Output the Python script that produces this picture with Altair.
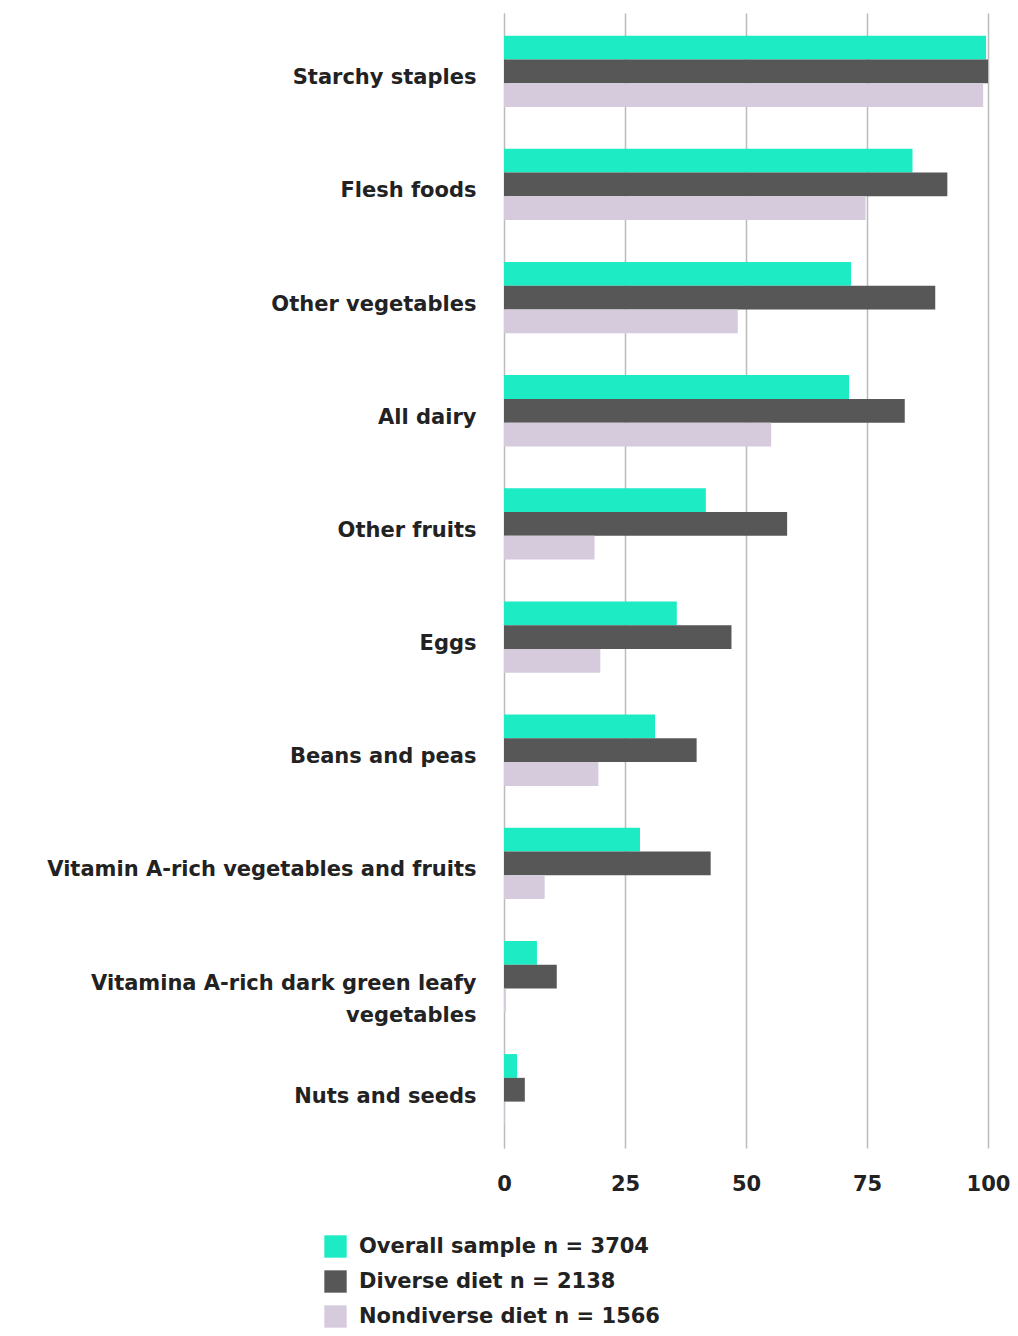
import altair as alt
import pandas as pd

categories = ["Starchy staples", "Flesh foods", "Other vegetables", "All dairy", "Other fruits",
              "Eggs", "Beans and peas", "Vitamin A-rich vegetables and fruits",
              "Vitamina A-rich dark green leafy|vegetables", "Nuts and seeds"]
overall = [99.6, 84.4, 71.7, 71.3, 41.7, 35.7, 31.2, 28.1, 6.8, 2.7]
diverse = [100, 91.6, 89.1, 82.8, 58.5, 47.0, 39.8, 42.7, 10.9, 4.3]
nondiverse = [99.0, 74.7, 48.3, 55.2, 18.7, 19.9, 19.5, 8.4, 0.4, 0.1]
series = ["Overall sample n = 3704", "Diverse diet n = 2138", "Nondiverse diet n = 1566"]
colors = ["#1DEBC4", "#575757", "#D6CADD"]

rows = []
for i, c in enumerate(categories):
    for s, vals in zip(series, [overall, diverse, nondiverse]):
        rows.append({"cat": c, "series": s, "value": vals[i]})
df = pd.DataFrame(rows)

font = "DejaVu Sans"
chart = alt.Chart(df).mark_bar().encode(
    x=alt.X("value:Q", scale=alt.Scale(domain=[0, 100], nice=False),
            axis=alt.Axis(values=[0, 25, 50, 75, 100], title=None, grid=True, gridColor="#bbbbbb",
                          gridWidth=1.5, domain=False, ticks=False, labelFontSize=21,
                          labelFontWeight="bold", labelPadding=25, labelColor="#222", labelFont=font,
                          labelFlush=False)),
    y=alt.Y("cat:N", sort=categories,
            scale=alt.Scale(paddingInner=0.37, paddingOuter=0.2),
            axis=alt.Axis(title=None, ticks=False, domain=True, domainColor="#bbbbbb", labelFontSize=21,
                          labelFontWeight="bold", labelPadding=28, labelLimit=600, labelColor="#222",
                          labelFont=font, labelExpr="split(datum.value, '|')", labelLineHeight=32,
                          labelOffset=7)),
    yOffset=alt.YOffset("series:N", sort=series),
    color=alt.Color("series:N", sort=series, scale=alt.Scale(domain=series, range=colors),
                    legend=alt.Legend(title=None, orient="none", legendX=-180, legendY=1222,
                                      symbolType="square", symbolSize=500, symbolStrokeWidth=0,
                                      labelFontSize=21, labelFontWeight="bold", labelFont=font,
                                      labelColor="#222", rowPadding=12, labelLimit=500, labelOffset=12)),
).properties(width=484, height=1135,
             padding={"left": 38, "top": 5, "right": 0, "bottom": 5}).configure_view(stroke=None)

chart.save("out.html", embed_options={"renderer": "svg", "actions": False})
